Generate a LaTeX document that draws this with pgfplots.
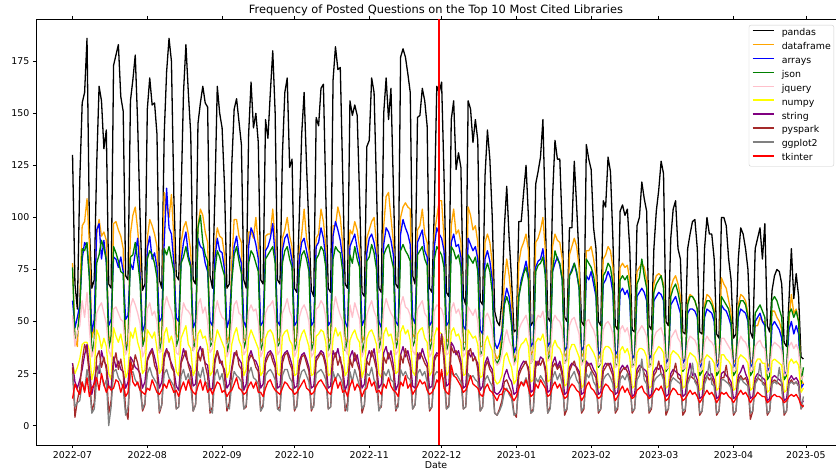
\documentclass[border=0pt]{standalone}
\usepackage{fontspec}
\setmainfont{DejaVu Sans}
\usepackage{pgfplots}
\usepackage{pgfplotstable}
\pgfplotsset{compat=1.18}
\definecolor{mplorange}{rgb}{1,0.647,0}
\definecolor{mplblue}{rgb}{0,0,1}
\definecolor{mplgreen}{rgb}{0,0.502,0}
\definecolor{mplpink}{rgb}{1,0.753,0.796}
\definecolor{mplyellow}{rgb}{1,1,0}
\definecolor{mplpurple}{rgb}{0.502,0,0.502}
\definecolor{mplbrown}{rgb}{0.647,0.165,0.165}
\definecolor{mplgray}{rgb}{0.502,0.502,0.502}
\definecolor{mplred}{rgb}{1,0,0}
\pgfplotstableread{
d P D A J Q N S Y G T
0 130 78 60 76 53 30 30 28 25 13
1 68 42 47 40 38 25 21 4 9 20
2 56 38 52 44 45 28 18 12 11 17
3 118 62 58 55 48 32 22 18 12 15
4 155 96 80 85 60 39 27 31 21 21
5 160 98 88 84 52 40 34 39 17 16
6 186 109 86 88 64 40 39 35 27 23
7 95 87 72 70 46 36 27 24 20 14
8 66 42 45 34 33 22 15 7 6 18
9 70 47 51 41 37 27 21 11 8 20
10 125 92 94 78 54 46 29 33 22 23
11 163 99 97 82 57 43 25 36 29 17
12 156 91 80 89 59 37 36 28 24 25
13 133 93 89 85 54 42 31 33 19 20
14 142 89 78 80 49 38 29 27 22 16
15 68 43 48 37 36 25 19 6 0 19
16 66 40 51 43 33 22 18 12 9 17
17 173 97 81 86 56 47 33 30 26 18
18 178 98 80 83 57 43 28 35 27 22
19 183 94 76 79 54 40 31 27 23 21
20 158 91 81 74 51 44 27 32 21 16
21 151 85 74 73 50 38 26 25 18 20
22 72 38 51 35 34 23 18 8 5 14
23 70 41 53 40 37 26 21 3 9 16
24 156 92 78 81 57 45 33 32 25 30
25 166 101 75 82 61 42 31 27 26 21
26 178 105 83 88 58 47 28 34 22 19
27 145 94 90 79 54 40 27 30 20 21
28 100 81 72 69 49 36 25 23 17 17
29 65 40 45 38 33 25 18 7 8 16
30 68 43 49 42 36 27 21 10 11 15
31 152 90 85 80 56 46 32 31 25 18
32 167 99 91 84 59 44 35 34 28 17
33 154 96 80 82 53 42 37 36 24 22
34 155 92 83 78 55 45 33 29 22 19
35 140 86 76 71 50 37 28 26 20 16
36 70 40 50 36 35 25 18 6 7 15
37 66 43 52 41 36 27 21 10 10 17
38 140 112 88 85 57 44 34 32 25 20
39 170 105 114 82 62 47 37 36 27 18
40 186 100 95 86 58 40 33 35 23 22
41 175 111 92 80 55 43 30 28 21 19
42 110 90 78 74 50 38 27 26 19 16
43 72 44 52 38 35 26 19 8 8 17
44 70 42 50 42 34 24 17 9 9 14
45 110 88 79 78 51 42 31 30 24 18
46 160 95 88 81 59 45 37 33 27 21
47 183 98 93 86 56 48 33 36 22 17
48 160 92 82 80 55 39 30 29 25 22
49 140 84 77 76 53 37 28 25 19 18
50 70 42 47 36 36 24 19 7 7 16
51 68 40 50 41 38 27 20 10 10 15
52 145 96 90 95 58 44 35 35 26 19
53 155 104 86 101 61 46 38 31 23 22
54 163 101 85 88 54 42 34 37 28 17
55 155 93 78 82 57 43 30 29 21 21
56 153 88 74 79 50 38 29 24 20 16
57 72 42 50 38 35 24 17 6 8 18
58 66 41 48 40 37 26 18 9 6 15
59 110 85 80 74 54 40 32 30 24 18
60 163 95 90 84 60 46 36 36 27 21
61 150 91 84 81 55 43 32 30 22 20
62 143 90 83 76 52 40 29 31 25 16
63 115 82 75 72 51 37 27 24 18 17
64 66 40 47 35 33 23 18 7 9 14
65 68 43 51 40 36 26 20 11 8 16
66 125 78 70 69 49 39 28 26 20 17
67 152 99 86 82 58 44 35 33 26 20
68 157 99 91 86 60 47 34 36 24 23
69 146 91 82 79 54 41 32 29 23 18
70 135 88 78 73 53 38 30 27 21 17
71 70 42 50 37 34 24 17 8 8 15
72 66 40 47 41 36 27 20 9 10 16
73 140 93 86 78 55 42 33 31 25 19
74 165 93 95 84 58 46 36 34 28 21
75 143 90 92 82 55 43 32 32 23 18
76 150 100 87 78 56 40 31 28 22 21
77 136 87 80 74 50 37 28 26 20 16
78 70 40 48 36 33 24 18 7 7 16
79 68 42 50 40 36 26 20 10 9 14
80 147 91 84 80 54 42 32 30 24 18
81 138 92 86 82 57 45 35 33 26 21
82 160 92 90 84 58 46 36 35 27 22
83 180 104 97 86 60 44 34 31 25 19
84 150 89 81 78 53 39 30 28 22 17
85 70 42 50 38 34 25 18 8 8 16
86 68 40 48 40 36 24 19 9 7 15
87 130 90 84 78 54 43 33 30 24 18
88 160 94 90 84 57 45 35 34 27 21
89 167 100 92 86 61 46 36 35 27 20
90 124 91 86 80 55 41 33 30 23 18
91 128 86 79 76 52 39 29 27 21 17
92 66 40 48 36 33 24 18 7 8 15
93 64 42 50 40 36 25 19 10 9 16
94 100 84 80 74 52 40 31 28 22 18
95 140 92 88 82 56 44 34 33 26 20
96 160 104 90 84 58 46 35 34 27 22
97 125 90 84 80 55 42 32 30 24 18
98 95 84 78 74 50 38 28 26 21 17
99 65 40 48 36 33 24 18 7 8 15
100 62 40 50 40 35 25 19 10 9 16
101 148 90 86 80 56 43 33 31 25 19
102 144 92 88 82 57 44 34 33 26 21
103 162 104 95 86 60 46 36 35 27 22
104 164 98 90 84 58 45 35 33 25 20
105 110 86 80 76 52 40 30 28 22 18
106 66 40 48 36 33 24 18 8 8 16
107 64 42 50 40 35 25 19 9 9 15
108 166 96 91 80 55 42 36 31 26 20
109 182 96 98 86 62 47 33 35 22 23
110 171 105 94 84 57 43 37 29 25 18
111 172 100 89 83 53 45 31 33 23 21
112 120 87 80 74 50 38 28 25 20 16
113 68 42 50 36 37 24 17 7 9 17
114 66 40 47 41 34 26 20 11 7 14
115 156 94 86 82 58 41 33 32 26 19
116 149 92 89 78 52 44 36 28 21 22
117 154 98 92 86 59 46 31 35 27 17
118 149 94 85 80 55 42 34 30 23 20
119 110 85 79 76 51 40 28 26 19 18
120 64 40 48 35 33 23 18 6 8 14
121 62 43 51 40 36 27 20 10 10 17
122 134 90 83 79 53 42 32 31 25 18
123 137 94 90 81 57 45 36 29 24 23
124 167 98 92 87 60 46 33 36 28 19
125 160 100 88 83 55 43 37 32 22 21
126 115 87 81 75 52 39 29 27 20 16
127 66 42 50 37 35 25 18 8 7 17
128 64 41 47 41 37 23 20 9 10 15
129 150 96 87 82 56 44 35 33 26 20
130 167 110 95 85 61 47 38 30 24 18
131 147 112 93 87 57 43 32 35 27 23
132 162 100 89 81 54 44 36 31 22 19
133 115 88 82 76 52 39 29 26 21 17
134 68 42 50 37 34 25 17 7 8 16
135 66 40 48 41 36 26 20 11 9 14
136 177 100 92 84 58 45 34 34 27 21
137 181 105 99 87 62 48 38 30 24 19
138 177 107 95 84 57 44 33 37 26 24
139 169 105 92 82 56 46 36 32 23 18
140 160 104 87 79 53 41 31 28 22 20
141 72 44 52 38 36 26 19 8 8 15
142 68 42 49 41 34 24 18 10 10 17
143 148 94 88 82 56 44 35 31 25 19
144 149 96 91 84 58 46 32 35 27 22
145 162 104 94 86 60 47 37 33 24 20
146 156 92 84 80 54 42 33 30 26 21
147 144 88 81 77 52 40 30 28 21 17
148 66 40 48 36 33 24 18 7 8 15
149 64 42 50 40 35 26 19 9 9 16
150 105 92 86 80 55 43 33 31 24 18
151 163 100 95 86 58 47 35 34 26 22
152 160 108 92 84 57 45 34 33 25 20
153 165 108 90 82 56 44 44 43 24 27
154 120 90 84 76 52 41 33 31 22 18
155 64 40 48 36 34 24 19 8 8 16
156 62 42 50 40 35 26 20 10 9 15
157 147 96 88 86 56 45 40 38 26 29
158 156 104 92 84 59 47 38 35 24 24
159 123 92 86 80 54 43 34 36 25 23
160 131 94 87 82 56 44 36 33 23 21
161 124 88 81 76 52 40 31 29 21 19
162 62 40 48 36 33 24 18 8 8 16
163 58 40 46 38 35 25 19 9 9 17
164 156 105 90 82 57 46 36 35 25 20
165 152 101 87 80 55 44 33 37 23 24
166 136 94 84 78 53 42 35 31 24 20
167 147 96 86 81 56 43 32 33 22 19
168 137 88 80 74 50 39 30 27 21 18
169 60 38 46 34 33 23 17 7 7 15
170 58 38 44 36 34 24 19 9 9 14
171 120 88 80 74 52 40 30 28 22 18
172 142 92 84 78 54 43 33 31 24 20
173 128 88 79 74 51 39 29 27 21 17
174 100 78 70 64 46 36 27 25 19 16
175 55 35 40 32 31 22 16 6 6 14
176 50 32 37 30 29 20 15 5 5 12
177 48 34 40 32 30 21 16 8 7 15
178 60 48 45 40 34 24 18 12 10 15
179 95 70 60 58 42 33 24 21 16 18
180 115 80 66 62 46 35 27 22 18 17
181 90 72 62 58 41 31 23 19 15 16
182 70 60 52 48 38 28 21 16 13 14
183 45 32 35 30 29 20 15 6 5 12
184 46 34 38 33 31 22 16 4 6 14
185 98 78 62 62 46 36 26 24 18 18
186 98 85 70 68 49 39 29 27 21 21
187 112 88 74 73 51 40 31 29 20 19
188 125 92 79 76 53 42 30 31 23 22
189 100 84 72 70 48 38 28 26 19 18
190 48 34 38 30 30 21 16 6 6 14
191 50 36 40 32 32 22 17 8 7 15
192 116 88 76 74 50 40 31 28 23 20
193 122 90 79 77 53 42 29 31 21 18
194 129 94 80 78 52 41 33 29 24 22
195 147 100 85 81 55 44 32 32 22 20
196 100 84 74 72 48 38 28 26 20 18
197 52 34 38 32 31 21 16 6 6 14
198 50 36 40 34 32 22 17 9 8 15
199 110 86 74 74 50 38 30 28 23 19
200 137 92 78 84 53 41 33 30 26 21
201 128 89 81 80 51 38 28 27 22 18
202 128 88 77 78 50 37 31 29 25 20
203 95 80 70 70 46 34 26 24 20 16
204 52 33 36 30 30 19 15 5 7 13
205 50 35 38 32 31 20 16 8 8 14
206 95 82 72 72 48 36 28 26 22 18
207 95 86 75 74 51 39 30 29 24 20
208 127 90 78 78 52 39 29 31 26 19
209 105 86 73 74 48 36 28 27 22 17
210 80 76 66 66 44 33 26 24 20 16
211 50 33 36 30 29 18 15 6 7 12
212 48 35 38 32 31 20 16 8 9 14
213 135 84 72 80 50 38 31 28 25 19
214 128 84 70 78 51 39 29 30 23 21
215 123 86 74 76 48 37 30 27 26 18
216 95 80 68 72 46 35 27 25 21 17
217 85 72 62 64 42 32 25 23 19 15
218 50 32 34 28 29 18 15 6 7 13
219 48 34 36 30 30 19 16 8 8 14
220 108 80 68 72 46 36 28 26 22 18
221 105 82 70 74 49 38 30 28 24 20
222 129 86 74 78 50 38 29 30 25 19
223 122 84 71 76 48 37 30 27 23 17
224 90 76 64 68 44 34 26 24 20 16
225 48 32 34 28 28 18 15 6 7 12
226 46 34 36 30 29 19 16 8 9 14
227 103 76 64 70 46 36 27 25 22 17
228 106 78 66 72 48 38 29 27 24 19
229 101 76 63 70 45 35 27 28 22 16
230 104 77 65 72 47 37 29 26 25 18
231 85 70 60 64 42 33 25 23 20 15
232 46 32 32 28 28 18 14 6 7 13
233 45 34 34 30 29 19 15 8 8 14
234 96 74 62 68 44 35 27 25 22 17
235 100 76 64 71 46 37 29 27 24 18
236 117 78 66 80 48 37 28 29 32 19
237 109 76 64 72 46 36 27 25 22 16
238 103 70 60 66 43 33 26 23 20 15
239 48 32 32 28 28 18 14 6 7 13
240 46 34 34 30 29 19 15 8 9 14
241 85 68 60 64 42 34 26 24 21 16
242 103 72 62 68 45 36 28 26 23 18
243 113 73 64 70 46 38 27 31 24 17
244 127 72 63 72 47 37 29 25 25 19
245 121 68 60 66 43 35 26 24 22 16
246 50 30 30 26 27 18 14 5 7 12
247 48 32 32 28 28 19 15 8 8 13
248 90 66 58 62 42 34 25 23 21 16
249 104 70 60 66 44 36 27 25 23 18
250 108 72 62 68 46 35 26 30 22 17
251 85 68 58 64 42 34 25 23 21 15
252 80 62 54 58 40 32 24 22 20 15
253 45 30 30 26 27 18 14 5 7 12
254 44 32 32 28 28 19 15 7 8 13
255 85 60 54 58 40 32 24 22 20 15
256 92 63 56 62 43 35 30 24 23 17
257 98 62 56 62 42 34 24 23 30 15
258 99 60 55 60 41 33 25 22 21 16
259 85 56 52 56 38 30 22 20 19 14
260 45 30 28 24 26 17 13 5 6 11
261 44 32 30 26 27 18 14 7 7 13
262 85 58 52 56 40 32 24 22 20 15
263 100 63 56 60 43 34 26 24 23 17
264 92 62 55 60 41 33 24 22 31 15
265 92 60 54 58 40 32 25 23 20 16
266 80 56 50 54 38 30 22 20 19 14
267 44 30 28 24 26 17 13 5 6 11
268 42 32 30 26 27 18 14 7 7 13
269 100 71 58 62 42 34 25 23 22 16
270 100 68 56 60 42 34 26 23 22 15
271 96 66 55 58 40 32 24 29 21 16
272 80 60 52 56 38 31 23 21 20 14
273 70 54 48 50 36 29 21 19 18 13
274 42 30 28 24 26 17 13 5 6 11
275 44 32 30 26 27 18 14 7 7 13
276 80 58 52 56 39 32 24 22 20 15
277 95 63 56 60 43 34 26 24 23 17
278 92 62 55 60 41 33 29 22 21 15
279 85 60 54 58 40 32 25 23 20 16
280 75 54 50 52 37 30 22 20 19 14
281 45 30 28 24 26 17 13 3 6 11
282 42 32 30 26 27 18 14 7 7 13
283 85 48 50 54 38 30 23 21 20 14
284 90 48 52 56 40 32 25 23 22 16
285 95 52 54 58 41 32 24 22 30 15
286 80 50 50 55 38 30 23 21 20 14
287 97 50 48 52 37 30 22 20 19 14
288 48 28 26 22 25 16 12 5 6 11
289 45 30 28 24 26 17 13 7 7 12
290 65 55 48 60 38 31 23 21 20 14
291 72 55 50 62 40 32 24 22 21 15
292 75 52 48 60 39 31 23 21 20 14
293 74 50 46 56 38 30 22 20 28 14
294 68 46 42 52 36 29 21 19 19 13
295 40 24 24 22 24 16 12 5 6 11
296 38 26 26 24 25 17 13 7 7 12
297 60 50 46 54 38 30 22 20 20 14
298 85 63 50 56 40 32 24 22 21 15
299 61 54 44 52 37 30 22 20 20 14
300 73 56 48 55 39 31 23 21 21 15
301 62 50 44 50 36 29 21 19 19 13
302 33 22 18 20 22 16 10 8 8 10
303 32 20 20 28 24 18 12 10 14 9
}\data
\begin{document}
\begin{tikzpicture}
\begin{axis}[
  width=800pt, height=426pt, scale only axis,
  xmin=-15.15, xmax=316.5, ymin=-9.3, ymax=195.3,
  axis line style={line width=0.6pt},
  tick align=outside, major tick length=3.2pt,
  tick style={black, line width=0.6pt},
  xtick={0,31,62,92,123,153,184,215,243,274,304},
  xticklabels={2022-07,2022-08,2022-09,2022-10,2022-11,2022-12,2023-01,2023-02,2023-03,2023-04,2023-05},
  ytick={0,25,50,75,100,125,150,175},
  ticklabel style={font=\fontsize{9.4}{11}\selectfont},
  /pgf/number format/assume math mode=true,
  xlabel={Date}, xlabel style={font=\fontsize{9.4}{11}\selectfont, yshift=4pt},
  title={Frequency of Posted Questions on the Top 10 Most Cited Libraries},
  title style={font=\fontsize{11.4}{13.5}\selectfont, yshift=-6pt},
  legend style={at={(rel axis cs:1,1)}, anchor=north east, xshift=-2pt, yshift=-6pt,
    font=\fontsize{9.4}{11}\selectfont, draw=black!20, rounded corners=2pt,
    row sep=4.9pt, column sep=0pt, inner xsep=3pt, inner ysep=3.5pt,
    nodes={inner sep=0pt, text height=7pt, text depth=2pt}},
  legend cell align=left,
  legend image code/.code={\draw[#1, line width=1.5pt] (0pt,2.5pt) -- (21pt,2.5pt); \path (28.4pt,2.5pt);},
  every axis plot/.append style={line width=1.3pt, line join=round},
]
\addplot[color=black] table[x=d,y=P]{\data};
\addplot[color=mplorange] table[x=d,y=D]{\data};
\addplot[color=mplblue] table[x=d,y=A]{\data};
\addplot[color=mplgreen] table[x=d,y=J]{\data};
\addplot[color=mplpink] table[x=d,y=Q]{\data};
\addplot[color=mplyellow] table[x=d,y=N]{\data};
\addplot[color=mplpurple] table[x=d,y=S]{\data};
\addplot[color=mplbrown] table[x=d,y=Y]{\data};
\addplot[color=mplgray] table[x=d,y=G]{\data};
\addplot[color=mplred] table[x=d,y=T]{\data};
\legend{pandas,dataframe,arrays,json,jquery,numpy,string,pyspark,ggplot2,tkinter}
\addplot[color=mplred, line width=1.5pt, forget plot] coordinates {(152,-9.3) (152,195.3)};
\coordinate (SW) at (rel axis cs:0,0);
\coordinate (NE) at (rel axis cs:1,1);
\end{axis}
\pgfresetboundingbox
\path[use as bounding box] ([xshift=-36pt,yshift=-28pt]SW) rectangle ([yshift=19pt]NE);
\end{tikzpicture}
\end{document}
